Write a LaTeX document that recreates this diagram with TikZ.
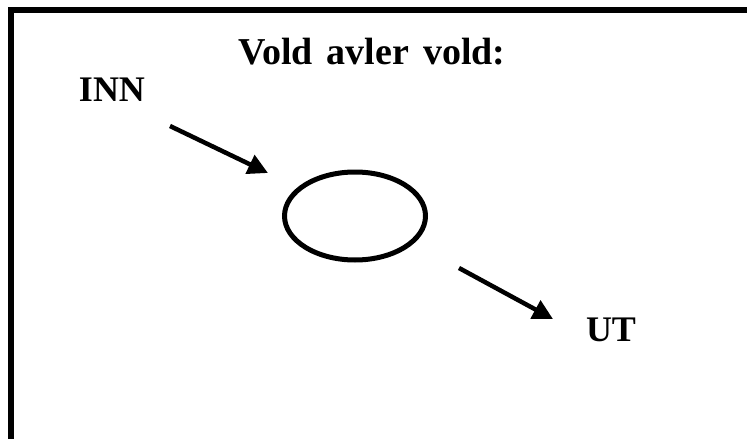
\documentclass[tikz,border=0pt]{standalone}
\usepackage{fontspec}
\setmainfont{Liberation Serif}
\usetikzlibrary{arrows.meta,shapes.geometric}

\begin{document}
\begin{tikzpicture}[
    x=1pt, y=-1pt,
    label/.style={
        font=\fontsize{36}{42}\selectfont\bfseries,
        inner sep=0pt, anchor=base
    },
    headline/.style={
        label, font={\fontsize{38}{44}\selectfont\bfseries\spaceskip 14pt\relax}
    },
    ring/.style={
        ellipse, draw=black, line width=5pt,
        minimum width=141pt, minimum height=88pt
    },
    arr/.style={-{Triangle[length=20pt,width=20pt]}, line width=4.5pt, black},
]
\useasboundingbox (0,0) rectangle (747,439);

% Frame
\draw[line width=6pt, line cap=rect] (11,445) -- (11,10) -- (760,10);

% Nodes
\node[headline] (title) at (372,64) {Vold avler vold:};
\node[label] (inn) at (112,101) {INN};
\node[ring] (circ) at (355,216) {};
\node[label] (ut) at (611,341) {UT};

% Arrow ends
\coordinate (innA) at (170,126);
\coordinate (innB) at (268,173);
\coordinate (utA) at (459,268);
\coordinate (utB) at (553,319);

% Arrows
\draw[arr] (innA) -- (innB);
\draw[arr] (utA) -- (utB);

\end{tikzpicture}
\end{document}
